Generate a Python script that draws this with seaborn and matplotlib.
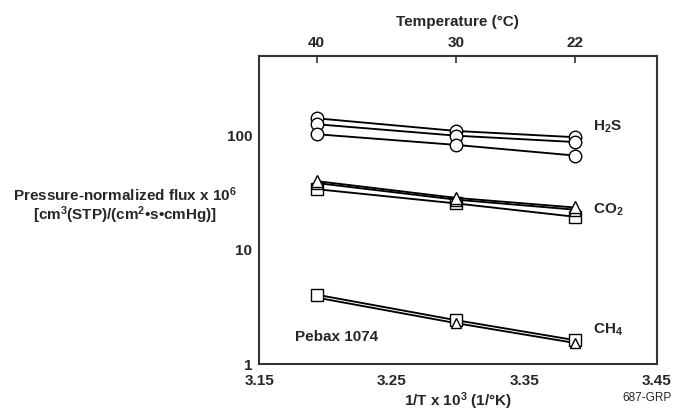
import matplotlib.pyplot as plt
import matplotlib.ticker as mticker
import seaborn as sns

# %% Data

TEMPS_C = [40, 30, 22]

H2S_A = [142, 110, 97]
H2S_B = [126, 100, 88]
H2S_C = [103, 83, 67]

CO2_A = [40, 28.5, 23.5]   # triangles
CO2_B = [38.5, 27.5, 22.5]  # triangles
CO2_C = [34, 25.5, 19.5]   # squares

CH4_A = [4.05, 2.42, 1.62]  # squares
CH4_B = [3.82, 2.28, 1.53]  # triangles (hidden at 40 C)

X_TICKS = [3.15, 3.25, 3.35, 3.45]
Y_TICKS = [1, 10, 100]

# %% Style

sns.set_style("white")
plt.rcParams["font.family"] = ["Liberation Sans", "DejaVu Sans"]
plt.rcParams.update({
    "font.weight": "bold",
    "mathtext.fontset": "custom",
    "mathtext.rm": "Liberation Sans:bold",
    "mathtext.bf": "Liberation Sans:bold",
    "mathtext.default": "bf",
})
FS = 11

inv_t = [1000 / (t + 273.15) for t in TEMPS_C]

fig = plt.figure(figsize=(6.73, 4.17), dpi=100)
ax = fig.add_axes([0.385, 0.127, 0.591, 0.739])

# (values, marker, size, linestyle, markevery)
series = [
    (H2S_A, "o", 9, "-", None),
    (H2S_B, "o", 9, "-", None),
    (H2S_C, "o", 9, "-", None),
    (CO2_C, "s", 8, "-", None),
    (CO2_B, "^", 9, "-", None),
    (CO2_A, "^", 9, "-", None),
    (CH4_B, None, 0, "-", None),
    (CH4_A, "s", 8, "-", None),
    (CH4_B, "^", 6.5, "", [1, 2]),
]

for vals, mk, size, ls, every in series:
    sns.lineplot(
        x=inv_t, y=vals, ax=ax, color="black", lw=1.35, linestyle=ls,
        marker=mk, markersize=size, markerfacecolor="white",
        markeredgecolor="black", markeredgewidth=1, markevery=every,
    )

# %% Axes

ax.set_yscale("log")
ax.set_xlim(3.15, 3.45)
ax.set_ylim(1, 500)

ax.set_xticks(X_TICKS)
ax.set_xticklabels([f"{v:.2f}" for v in X_TICKS])
ax.xaxis.set_minor_locator(mticker.FixedLocator([3.20, 3.30, 3.40]))
ax.set_yticks(Y_TICKS)
ax.set_yticklabels([str(v) for v in Y_TICKS])
ax.yaxis.set_minor_locator(mticker.LogLocator(base=10, subs=range(2, 10)))
ax.yaxis.set_minor_formatter(mticker.NullFormatter())

ax.tick_params(axis="x", which="both", direction="in", length=5, width=1.2,
               color="#333333", labelsize=FS, pad=7, top=False)
ax.tick_params(axis="y", which="major", direction="in", length=9, width=1.2,
               color="#333333", labelsize=FS, pad=5, right=False)
ax.tick_params(axis="y", which="minor", direction="in", length=4, width=1.2,
               color="#333333", right=False)
for lab in ax.get_xticklabels() + ax.get_yticklabels():
    lab.set_fontweight("bold")

for s in ax.spines.values():
    s.set_color("#333333")
    s.set_linewidth(1.5)
ax.set_xlabel("")
ax.set_ylabel("")

top = ax.secondary_xaxis(
    "top", functions=(lambda x: 1000 / x - 273.15, lambda t: 1000 / (t + 273.15))
)
top.set_xticks(TEMPS_C)
top.set_xticklabels([str(t) for t in TEMPS_C])
top.tick_params(direction="in", length=5, width=1.2, color="#333333",
                labelsize=FS, pad=4)
for lab in top.get_xticklabels():
    lab.set_fontweight("bold")
top.spines["top"].set_visible(False)

# %% Labels

ax.text(0.84, 0.77, "H$_2$S", transform=ax.transAxes, fontsize=FS, va="center")
ax.text(0.84, 0.50, "CO$_2$", transform=ax.transAxes, fontsize=FS, va="center")
ax.text(0.84, 0.11, "CH$_4$", transform=ax.transAxes, fontsize=FS, va="center")
ax.text(0.09, 0.088, "Pebax 1074", transform=ax.transAxes, fontsize=FS, va="center")

fig.text(0.186, 0.506,
         "Pressure-normalized flux x 10$^6$\n[cm$^3$(STP)/(cm$^2$•s•cmHg)]",
         ha="center", va="center", multialignment="center", fontsize=FS,
         linespacing=1.05)
fig.text(0.68, 0.038, "1/T x 10$^3$ (1/°K)", ha="center", va="center", fontsize=FS)
fig.text(0.68, 0.947, "Temperature (°C)", ha="center", va="center", fontsize=FS)
fig.text(0.962, 0.045, "687-GRP", ha="center", va="center", fontsize=8.5,
         fontweight="normal")

fig.savefig("out.png", dpi=100)
